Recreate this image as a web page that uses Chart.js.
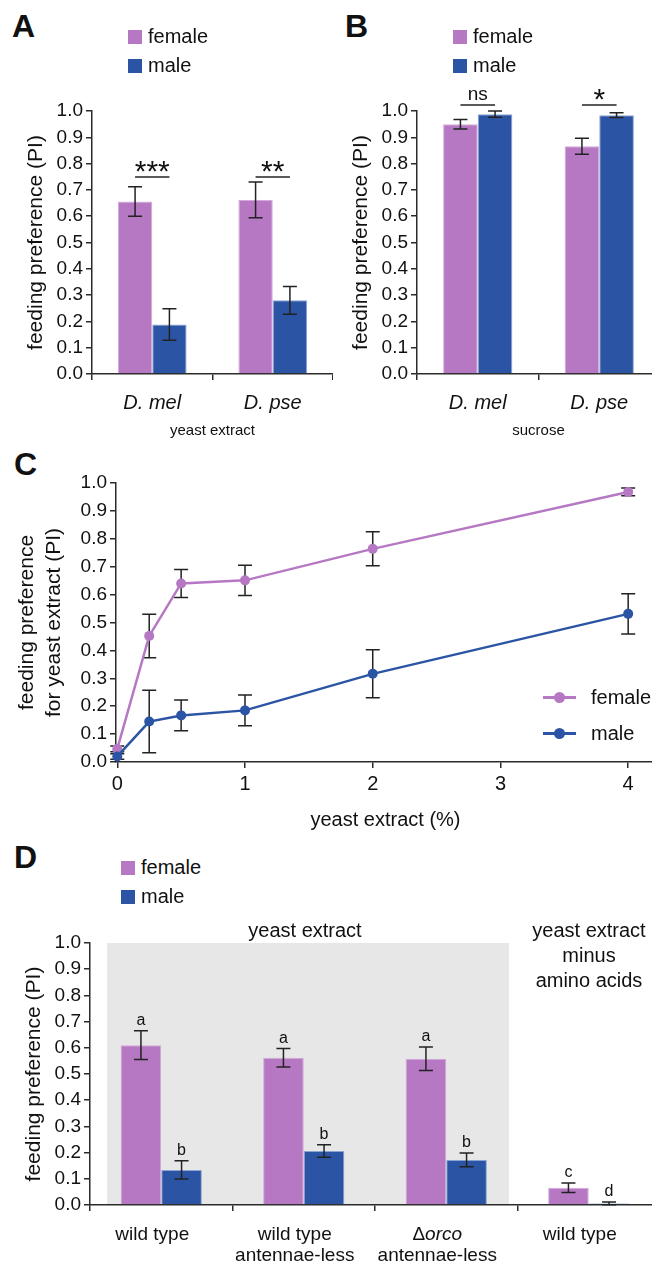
<!DOCTYPE html>
<html>
<head>
<meta charset="utf-8">
<title>Feeding preference</title>
<script src="https://cdn.jsdelivr.net/npm/chart.js@4.4.1/dist/chart.umd.min.js"></script>
<style>
  body { margin: 0; width: 652px; height: 1265px; overflow: hidden; position: relative; background: #fff;
         font-family: 'Liberation Sans', Arial, Helvetica, sans-serif; color: #111; }
  canvas { position: absolute; }
  .panel { position: absolute; font-weight: bold; font-size: 32px; line-height: 32px; }
  .leg { position: absolute; font-size: 20px; line-height: 24px; white-space: nowrap; }
  .sq { display: inline-block; width: 14px; height: 14px; margin-right: 6px; vertical-align: -1px; }
  .lleg { position: absolute; font-size: 20px; line-height: 24px; white-space: nowrap; padding-left: 48px; }
  .lleg .ln { position: absolute; left: 0; top: 11px; width: 33px; height: 3px; }
  .lleg .dot { position: absolute; left: 11px; top: 7px; width: 11px; height: 11px; border-radius: 50%; }
  .head { position: absolute; width: 200px; text-align: center; font-size: 20px; line-height: 25px; }
</style>
</head>
<body>

<div class="panel" style="left:12px;top:10px">A</div>
<div class="panel" style="left:345px;top:10px">B</div>
<div class="panel" style="left:14px;top:448px">C</div>
<div class="panel" style="left:14px;top:841px">D</div>

<canvas id="chartA" width="333" height="444" style="left:0;top:0"></canvas>
<canvas id="chartB" width="320" height="444" style="left:340px;top:0"></canvas>
<canvas id="chartC" width="660" height="400" style="left:0;top:440px"></canvas>
<canvas id="chartD" width="660" height="365" style="left:0;top:900px"></canvas>

<div class="head" style="left:205px;top:918px">yeast extract</div>
<div class="head" style="left:489px;top:918px">yeast extract<br>minus<br>amino acids</div>

<script>
// ---------------------------------------------
// dados
// ---------------------------------------------
const sexes = ['female', 'male'];
const sexColors = ['#b678c3', '#2b55a4'];
const sexBorders = ['#d3a9dc', '#8aa3d3'];

const piTicks = [0, 0.1, 0.2, 0.3, 0.4, 0.5, 0.6, 0.7, 0.8, 0.9, 1.0];

// A - yeast extract
const speciesLabels = ['D. mel', 'D. pse'];
const yeastFemale = [0.656, 0.662];
const yeastFemaleErr = [0.056, 0.068];
const yeastMale = [0.188, 0.280];
const yeastMaleErr = [0.060, 0.053];
const yeastSig = ['***', '**'];

// B - sucrose
const sucroseFemale = [0.950, 0.866];
const sucroseFemaleErr = [0.018, 0.030];
const sucroseMale = [0.988, 0.984];
const sucroseMaleErr = [0.012, 0.009];
const sucroseSig = ['ns', '*'];

// C - dose response
const doses = [0, 0.25, 0.5, 1, 2, 4];
const doseTicks = [0, 1, 2, 3, 4];
const doseFemale = [0.047, 0.452, 0.640, 0.651, 0.764, 0.968];
const doseFemaleErr = [0.010, 0.078, 0.050, 0.054, 0.061, 0.014];
const doseMale = [0.020, 0.145, 0.167, 0.185, 0.316, 0.531];
const doseMaleErr = [0.010, 0.112, 0.055, 0.055, 0.086, 0.072];

// D - antennae / orco
const groupLabels = [['wild type'], ['wild type', 'antennae-less'], ['Δorco', 'antennae-less'], ['wild type']];
const groupFemale = [0.610, 0.562, 0.558, 0.066];
const groupFemaleErr = [0.055, 0.035, 0.045, 0.018];
const groupMale = [0.134, 0.206, 0.172, 0.006];
const groupMaleErr = [0.035, 0.024, 0.026, 0.005];
const groupFemaleLetters = ['a', 'a', 'a', 'c'];
const groupMaleLetters = ['b', 'b', 'b', 'd'];

// ---------------------------------------------
// configuracao geral
// ---------------------------------------------
const fontFamily = "'Liberation Sans', Arial, Helvetica, sans-serif";
Chart.defaults.font.family = fontFamily;
Chart.defaults.color = '#111';
Chart.defaults.animation = false;
const axisLine = '#2b2b2b';

// barras de erro (SEM)
function drawErrors(chart) {
    const ctx = chart.ctx, y = chart.scales.y;
    ctx.save();
    ctx.strokeStyle = '#222';
    ctx.lineWidth = 1.5;
    chart.data.datasets.forEach((ds, i) => {
        if (!ds.errors) return;
        chart.getDatasetMeta(i).data.forEach((el, j) => {
            const raw = ds.data[j];
            const v = typeof raw === 'object' ? raw.y : raw;
            const e = ds.errors[j];
            const top = y.getPixelForValue(v + e);
            const bot = y.getPixelForValue(v - e);
            ctx.beginPath();
            ctx.moveTo(el.x, top); ctx.lineTo(el.x, bot);
            ctx.moveTo(el.x - 7, top); ctx.lineTo(el.x + 7, top);
            ctx.moveTo(el.x - 7, bot); ctx.lineTo(el.x + 7, bot);
            ctx.stroke();
        });
    });
    ctx.restore();
}
const errorBars = {
    id: 'errorBars',
    beforeDatasetsDraw(chart, args, opts) { if (opts.under) drawErrors(chart); },
    afterDatasetsDraw(chart, args, opts) { if (!opts.under) drawErrors(chart); }
};

// asteriscos / ns sobre os pares
const sigMarks = {
    id: 'sigMarks',
    afterDatasetsDraw(chart, args, opts) {
        const ctx = chart.ctx, y = chart.scales.y;
        const f = chart.getDatasetMeta(0).data, m = chart.getDatasetMeta(1).data;
        const ly = y.getPixelForValue(opts.at);
        ctx.save();
        ctx.strokeStyle = '#222';
        ctx.lineWidth = 1.5;
        ctx.fillStyle = '#111';
        ctx.textAlign = 'center';
        ctx.textBaseline = 'middle';
        opts.labels.forEach((txt, j) => {
            ctx.beginPath();
            ctx.moveTo(f[j].x, ly); ctx.lineTo(m[j].x, ly);
            ctx.stroke();
            const stars = /^\*+$/.test(txt);
            ctx.font = (stars ? '30px ' : '19px ') + fontFamily;
            ctx.fillText(txt, (f[j].x + m[j].x) / 2, ly - (stars ? 4 : 10));
        });
        ctx.restore();
    }
};

// letras de significancia no painel D
const groupLetters = {
    id: 'groupLetters',
    afterDatasetsDraw(chart) {
        const ctx = chart.ctx, y = chart.scales.y;
        ctx.save();
        ctx.fillStyle = '#111';
        ctx.font = '16px ' + fontFamily;
        ctx.textAlign = 'center';
        ctx.textBaseline = 'alphabetic';
        chart.data.datasets.forEach((ds, i) => {
            chart.getDatasetMeta(i).data.forEach((el, j) => {
                ctx.fillText(ds.letters[j], el.x, y.getPixelForValue(ds.data[j] + ds.errors[j]) - 6);
            });
        });
        ctx.restore();
    }
};

// fundo cinza atras dos grupos "yeast extract"
const shadedBox = {
    id: 'shadedBox',
    beforeDraw(chart, args, opts) {
        const ctx = chart.ctx, x = chart.scales.x, y = chart.scales.y;
        const step = x.getPixelForValue(1) - x.getPixelForValue(0);
        const left = x.getPixelForValue(opts.from) - 0.38 * step;
        const right = x.getPixelForValue(opts.to) + 0.44 * step;
        const top = y.getPixelForValue(1), bottom = y.getPixelForValue(0);
        ctx.save();
        ctx.fillStyle = '#e7e7e7';
        ctx.fillRect(left, top, right - left, bottom - top);
        ctx.restore();
    }
};

// rotulos do eixo x do painel D (com "orco" em italico)
const groupTickLabels = {
    id: 'groupTickLabels',
    afterDraw(chart) {
        const ctx = chart.ctx, x = chart.scales.x;
        const font = st => st + '19px ' + fontFamily;
        ctx.save();
        ctx.fillStyle = '#111';
        ctx.textAlign = 'left';
        ctx.textBaseline = 'middle';
        chart.data.labels.forEach((lines, i) => {
            const cx = x.getPixelForValue(i) - 9;
            lines.forEach((line, k) => {
                const parts = line.startsWith('Δ') ? [['Δ', ''], [line.slice(1), 'italic ']] : [[line, '']];
                let w = 0;
                parts.forEach(p => { ctx.font = font(p[1]); w += ctx.measureText(p[0]).width; });
                let px = cx - w / 2;
                parts.forEach(p => {
                    ctx.font = font(p[1]);
                    ctx.fillText(p[0], px, x.top + 30 + k * 21);
                    px += ctx.measureText(p[0]).width;
                });
            });
        });
        ctx.restore();
    }
};

function piAxis(width, titleText, titlePad, lineHeight) {
    return {
        min: 0, max: 1,
        afterBuildTicks: s => { s.ticks = piTicks.map(v => ({ value: v })); },
        ticks: { padding: 3, font: { size: 19 }, callback: v => v.toFixed(1) },
        grid: { drawOnChartArea: false, tickLength: 6, color: axisLine, lineWidth: 1.5 },
        border: { color: axisLine, width: 1.5 },
        title: { display: true, text: titleText, font: { size: 21, lineHeight: lineHeight || 1.2 },
                 padding: { top: titlePad, bottom: 0 } },
        afterFit: s => { s.width = width; }
    };
}

function barDatasets(fem, femErr, mal, malErr) {
    return [[fem, femErr], [mal, malErr]].map((d, i) => ({
        label: sexes[i],
        data: d[0],
        errors: d[1],
        backgroundColor: sexColors[i],
        borderColor: sexBorders[i],
        borderWidth: 1,
        categoryPercentage: 0.57,
        barPercentage: 1
    }));
}

function sexBarChart(id, fem, femErr, mal, malErr, sig, sigAt, xTitle, yWidth, titlePad) {
    return new Chart(document.getElementById(id), {
        type: 'bar',
        data: { labels: speciesLabels, datasets: barDatasets(fem, femErr, mal, malErr) },
        options: {
            responsive: false,
            layout: { padding: { top: 111, left: 0, right: 0, bottom: 0 } },
            plugins: {
                legend: { display: false },
                tooltip: { enabled: false },
                errorBars: { under: false },
                sigMarks: { labels: sig, at: sigAt }
            },
            scales: {
                x: {
                    ticks: { padding: 11, font: { size: 20, style: 'italic' } },
                    grid: { drawOnChartArea: false, tickLength: 6, color: axisLine, lineWidth: 1.5, offset: true },
                    border: { color: axisLine, width: 1.5 },
                    title: { display: true, text: xTitle, font: { size: 15 }, padding: { top: 0, bottom: 4 } },
                    afterFit: s => { s.height = 70; }
                },
                y: piAxis(yWidth, 'feeding preference (PI)', titlePad)
            }
        },
        plugins: [errorBars, sigMarks]
    });
}

// ---------------------------------------------
// A e B
// ---------------------------------------------
sexBarChart('chartA', yeastFemale, yeastFemaleErr, yeastMale, yeastMaleErr, yeastSig, 0.749, 'yeast extract', 92, 24);
sexBarChart('chartB', sucroseFemale, sucroseFemaleErr, sucroseMale, sucroseMaleErr, sucroseSig, 1.023, 'sucrose', 77, 9);

// ---------------------------------------------
// C - curva dose-resposta
// ---------------------------------------------
const doseSeries = [[doseFemale, doseFemaleErr], [doseMale, doseMaleErr]];
new Chart(document.getElementById('chartC'), {
    type: 'line',
    data: {
        datasets: doseSeries.map((s, i) => ({
            label: sexes[i],
            data: doses.map((d, k) => ({ x: d, y: s[0][k] })),
            errors: s[1],
            borderColor: sexColors[i],
            backgroundColor: sexColors[i],
            borderWidth: 2.5,
            pointRadius: 5,
            pointHoverRadius: 5,
            pointBorderWidth: 0,
            tension: 0,
            clip: false,
            order: i === 0 ? 1 : 0
        }))
    },
    options: {
        responsive: false,
        layout: { padding: { top: 43, left: 0, right: 0, bottom: 0 } },
        plugins: {
            legend: { display: false },
            tooltip: { enabled: false },
            errorBars: { under: true }
        },
        scales: {
            x: {
                type: 'linear', min: -0.01, max: 4.21,
                afterBuildTicks: s => { s.ticks = doseTicks.map(v => ({ value: v })); },
                ticks: { padding: 4, font: { size: 20 }, callback: v => String(v) },
                grid: { drawOnChartArea: false, tickLength: 6, color: axisLine, lineWidth: 1.5 },
                border: { color: axisLine, width: 1.5 },
                title: { display: true, text: 'yeast extract (%)', font: { size: 20 }, padding: { top: 0, bottom: 8 } },
                afterFit: s => { s.height = 78; }
            },
            y: piAxis(116, ['feeding preference', 'for yeast extract (PI)'], 13.5, 1.286)
        }
    },
    plugins: [errorBars]
});

// ---------------------------------------------
// D - wild type / antennae-less / orco
// ---------------------------------------------
const dSets = barDatasets(groupFemale, groupFemaleErr, groupMale, groupMaleErr);
dSets[0].letters = groupFemaleLetters;
dSets[1].letters = groupMaleLetters;
new Chart(document.getElementById('chartD'), {
    type: 'bar',
    data: { labels: groupLabels, datasets: dSets },
    options: {
        responsive: false,
        layout: { padding: { top: 43, left: 0, right: 0, bottom: 0 } },
        plugins: {
            legend: { display: false },
            tooltip: { enabled: false },
            errorBars: { under: false },
            shadedBox: { from: 0, to: 2 }
        },
        scales: {
            x: {
                ticks: { display: false },
                grid: { drawOnChartArea: false, tickLength: 6, color: axisLine, lineWidth: 1.5, offset: true },
                border: { color: axisLine, width: 1.5 },
                afterFit: s => { s.height = 60; }
            },
            y: piAxis(90, 'feeding preference (PI)', 22)
        }
    },
    plugins: [shadedBox, errorBars, groupLetters, groupTickLabels]
});

// ---------------------------------------------
// legendas (HTML)
// ---------------------------------------------
function squareLegend(left, top) {
    sexes.forEach((name, i) => {
        const d = document.createElement('div');
        d.className = 'leg';
        d.style.left = left + 'px';
        d.style.top = (top + i * 29) + 'px';
        d.innerHTML = `<span class="sq" style="background:${sexColors[i]}"></span>${name}`;
        document.body.appendChild(d);
    });
}
squareLegend(128, 24);
squareLegend(453, 24);
squareLegend(121, 855);

sexes.forEach((name, i) => {
    const d = document.createElement('div');
    d.className = 'lleg';
    d.style.left = '543px';
    d.style.top = (685 + i * 36) + 'px';
    d.innerHTML = `<span class="ln" style="background:${sexColors[i]}"></span>` +
                  `<span class="dot" style="background:${sexColors[i]}"></span>${name}`;
    document.body.appendChild(d);
});
</script>
</body>
</html>
